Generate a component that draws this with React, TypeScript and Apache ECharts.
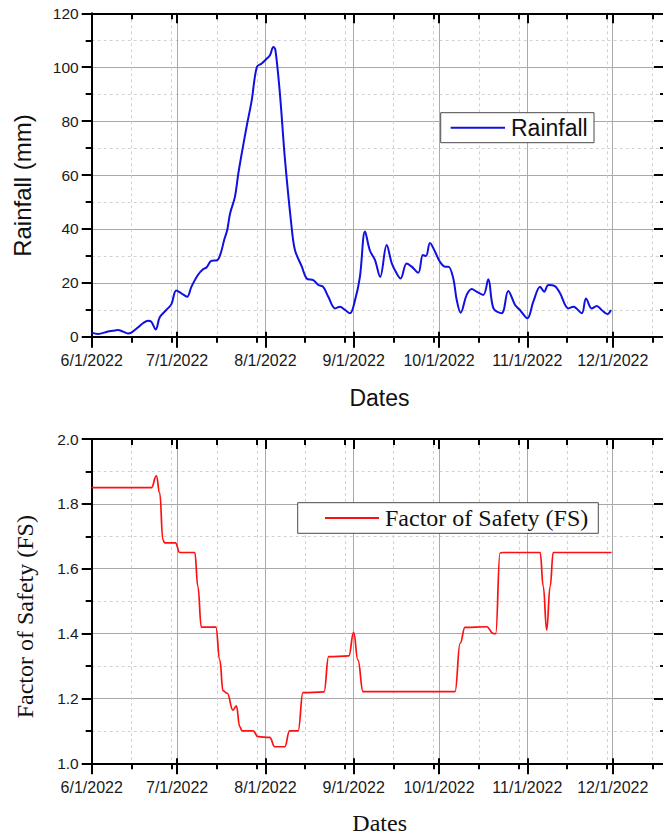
import React, { useEffect, useRef } from "react";
import * as echarts from "echarts";

// Days counted from 6/1/2022
const rainDay = [
  0, 2.2, 5.7, 7.5, 9.2, 11, 12.7, 13.9, 16.3, 18, 19.8, 20.9, 22.5, 23.9, 26.2, 28, 29.7, 31.5,
  33.5, 35, 37.3, 39.1, 40.3, 42, 44.1, 45.3, 46.5, 47.6, 48.6, 50.3, 51.5, 52.7, 54.4, 56.2, 58,
  59.7, 61.5, 62.6, 63.8, 64.5, 66.1, 67.9, 70.2, 71.4, 73.8, 75.5, 77.8, 79.6, 81.3, 83.1, 85.5,
  87.2, 89, 90.7, 92.5, 94.2, 96, 97.7, 99.5, 101.3, 103.6, 105.4, 107.1, 108.5, 110.6, 112.4,
  114.7, 116.3, 117.4, 118.8, 120.6, 122.3, 124.1, 125.3, 127, 128.2, 129.6, 131.7, 133.5, 135.2,
  137.5, 139.3, 141.1, 144, 146.3, 148.7, 150.4, 153, 155.1, 157.5, 158.9, 160.4, 162.7, 164.5,
  167.4, 169.2, 172.1, 173.6, 175.6, 177.4, 179.1, 181.1, 182.4,
];
const rainMm = [
  1.5, 1.0, 1.9, 2.2, 2.5, 1.9, 1.2, 1.5, 3.5, 5.0, 5.9, 5.6, 2.7, 7.2, 9.9, 12.1, 17.1, 16.1,
  14.8, 18.5, 22.9, 25, 25.7, 28.1, 28.4, 30.9, 35.8, 39.6, 45.7, 51.9, 60.6, 68, 77.9, 87.7, 100.1,
  101.4, 103.2, 104.4, 107.5, 106.5, 90.2, 65.5, 40.8, 32.1, 26, 21.6, 21, 19.2, 18.5, 14.8, 10.5,
  11.1, 9.9, 8.7, 13.6, 22.2, 39, 32, 28.4, 22.2, 34, 27.2, 23.5, 21.6, 27.2, 26,
  23.7, 30.3, 29.9, 34.8, 31.5, 27.8, 26, 26, 21.6, 13.6, 8.9, 15.5, 17.7, 16.7,
  15.5, 21.3, 10.5, 8.7, 17, 11.8, 9.9, 6.8, 13, 18.5, 16.7, 19.2, 18.8, 16.1,
  10.5, 11.1, 8.7, 14.2, 10.5, 11.4, 9.9, 8.4, 9.9,
];

const fsDay = [
  0, 21, 22.7, 23.9, 25, 25.6, 29.4, 30.9, 36.2, 37.3, 38.5, 43.6, 45, 46.1, 47.6, 49.6, 50.8, 52,
  52.8, 56.7, 58.4, 62.5, 64.3, 67.8, 69.5, 72.5, 74.2, 81.6, 83.2, 90.3, 92, 93.5, 95.3, 127.6,
  129.4, 131.1, 138.7, 141.1, 141.9, 143.4, 144.4, 157.5, 158.6, 159.8, 161, 162.1, 182.6,
];
const fsValue = [
  1.85, 1.85, 1.886, 1.833, 1.689, 1.68, 1.68, 1.65, 1.65, 1.545, 1.42, 1.42, 1.318, 1.224, 1.216,
  1.164, 1.177, 1.113, 1.1, 1.1, 1.082, 1.08, 1.051, 1.051, 1.1, 1.1, 1.218, 1.22, 1.329, 1.331,
  1.404, 1.318, 1.221, 1.221, 1.37, 1.419, 1.421, 1.4, 1.4, 1.648, 1.65, 1.65, 1.545, 1.411, 1.545,
  1.65, 1.65,
];

// Axis marks: month starts carry labels, mid/late-month marks carry dotted grid
const monthDays = [0, 30, 61, 92, 122, 153, 183];
const minorDays = [14, 28, 44, 58, 75, 89, 106, 120, 136, 150, 167, 181, 197];
const dayMax = 201;

const SANS = "Liberation Sans, Arial, sans-serif";
const SERIF = "Liberation Serif, Times New Roman, serif";
const MAJOR_GRID = "#a9a9a9";
const MINOR_GRID = "#d2d2d2";

function dayLabel(v: number) {
  const d = new Date(2022, 5, 1 + Math.round(v));
  return `${d.getMonth() + 1}/${d.getDate()}/${d.getFullYear()}`;
}

function xAxesFor(gridIndex: number) {
  const base = { type: "value", gridIndex, min: 0, max: dayMax };
  return [
    {
      ...base,
      position: "bottom",
      axisLine: { show: true, onZero: false, lineStyle: { color: "#000", width: 2 } },
      axisTick: { show: true, customValues: monthDays, length: 11, lineStyle: { color: "#000", width: 2 } },
      axisLabel: {
        show: true,
        customValues: monthDays,
        formatter: dayLabel,
        margin: 16,
        fontSize: 16,
        fontFamily: SANS,
        color: "#1a1a1a",
      },
      splitLine: { show: true, lineStyle: { color: MAJOR_GRID, width: 1 } },
    },
    {
      ...base,
      position: "bottom",
      axisLine: { show: false, onZero: false },
      axisTick: { show: true, customValues: minorDays, length: 6, lineStyle: { color: "#000", width: 2 } },
      axisLabel: { show: false },
      splitLine: { show: true, lineStyle: { color: MINOR_GRID, width: 1, type: [3, 3] } },
    },
    {
      ...base,
      position: "bottom",
      axisLine: { show: false, onZero: false },
      axisTick: { show: true, inside: true, customValues: monthDays, length: 5, lineStyle: { color: "#000", width: 2 } },
      axisLabel: { show: false },
      splitLine: { show: false },
    },
    {
      ...base,
      position: "top",
      axisLine: { show: true, onZero: false, lineStyle: { color: "#000", width: 2 } },
      axisTick: { show: true, inside: true, customValues: monthDays, length: 10, lineStyle: { color: "#000", width: 2 } },
      axisLabel: { show: false },
      splitLine: { show: false },
    },
    {
      ...base,
      position: "top",
      axisLine: { show: false, onZero: false },
      axisTick: { show: true, inside: true, customValues: minorDays, length: 6, lineStyle: { color: "#000", width: 2 } },
      axisLabel: { show: false },
      splitLine: { show: false },
    },
  ];
}

function yAxesFor(gridIndex: number, min: number, max: number, interval: number, digits: number) {
  return [
    {
      type: "value",
      gridIndex,
      min,
      max,
      interval,
      position: "left",
      axisLine: { show: true, onZero: false, lineStyle: { color: "#000", width: 2 } },
      axisTick: { show: true, length: 10, lineStyle: { color: "#000", width: 2 } },
      minorTick: { show: true, splitNumber: 2, length: 6, lineStyle: { color: "#000", width: 2 } },
      axisLabel: {
        margin: 13,
        fontSize: 15.5,
        fontFamily: SANS,
        color: "#1a1a1a",
        formatter: (v: number) => v.toFixed(digits),
      },
      splitLine: { show: true, lineStyle: { color: MAJOR_GRID, width: 1 } },
      minorSplitLine: { show: true, lineStyle: { color: MINOR_GRID, width: 1, type: [3, 3] } },
    },
    {
      type: "value",
      gridIndex,
      min,
      max,
      interval,
      position: "right",
      axisLine: { show: true, onZero: false, lineStyle: { color: "#000", width: 2 } },
      axisTick: { show: true, inside: true, length: 10, lineStyle: { color: "#000", width: 2 } },
      minorTick: { show: true, splitNumber: 2, length: 4, lineStyle: { color: "#000", width: 2 } },
      axisLabel: { show: false },
      splitLine: { show: false },
    },
  ];
}

function legendBox(x: number, y: number, w: number, h: number, lineX1: number, lineX2: number, color: string, label: string, font: string) {
  const cy = y + h / 2;
  return [
    {
      type: "rect",
      shape: { x, y, width: w, height: h },
      style: { fill: "#fff", stroke: "#4a4a4a", lineWidth: 1 },
      z: 100,
    },
    {
      type: "line",
      shape: { x1: lineX1, y1: cy, x2: lineX2, y2: cy },
      style: { stroke: color, lineWidth: 2 },
      z: 101,
    },
    {
      type: "text",
      x: lineX2 + 6,
      y: cy,
      style: { text: label, font, fill: "#111", align: "left", verticalAlign: "middle" },
      z: 101,
    },
  ];
}

export default function App() {
  const ref = useRef<HTMLDivElement>(null);

  useEffect(() => {
    if (!ref.current) return;
    const chart = echarts.init(ref.current, null, { renderer: "svg" });
    const rainPoints = rainDay.map((d, i) => [d, rainMm[i]]);
    const fsPoints = fsDay.map((d, i) => [d, fsValue[i]]);

    chart.setOption({
      animation: false,
      backgroundColor: "#fff",
      grid: [
        { left: 91.7, top: 13.3, width: 572.3, height: 323.4 },
        { left: 91.7, top: 439, width: 572.3, height: 324.3 },
      ],
      xAxis: [...xAxesFor(0), ...xAxesFor(1)],
      yAxis: [...yAxesFor(0, 0, 120, 20, 0), ...yAxesFor(1, 1, 2, 0.2, 1)],
      series: [
        {
          name: "Rainfall",
          type: "line",
          xAxisIndex: 0,
          yAxisIndex: 0,
          data: rainPoints,
          showSymbol: false,
          smooth: 0.35,
          lineStyle: { color: "#1010e0", width: 2 },
          z: 10,
        },
        {
          name: "Factor of Safety (FS)",
          type: "line",
          xAxisIndex: 5,
          yAxisIndex: 2,
          data: fsPoints,
          showSymbol: false,
          smooth: 0.45,
          smoothMonotone: "x",
          lineStyle: { color: "#ff1010", width: 1.7 },
          z: 10,
        },
      ],
      graphic: [
        {
          type: "text",
          x: 22,
          y: 185.5,
          rotation: Math.PI / 2,
          style: { text: "Rainfall (mm)", font: `24px ${SANS}`, fill: "#111", align: "center", verticalAlign: "middle" },
        },
        {
          type: "text",
          x: 379.5,
          y: 398,
          style: { text: "Dates", font: `23px ${SANS}`, fill: "#111", align: "center", verticalAlign: "middle" },
        },
        {
          type: "text",
          x: 25,
          y: 616.7,
          rotation: Math.PI / 2,
          style: { text: "Factor of Safety (FS)", font: `24px ${SERIF}`, fill: "#111", align: "center", verticalAlign: "middle" },
        },
        {
          type: "text",
          x: 379.7,
          y: 823,
          style: { text: "Dates", font: `24px ${SERIF}`, fill: "#111", align: "center", verticalAlign: "middle" },
        },
        ...legendBox(440.7, 112.7, 153.3, 30, 450.7, 505, "#1010e0", "Rainfall", `23px ${SANS}`),
        ...legendBox(297.7, 502.7, 300.6, 30.6, 325, 379, "#ff1010", "Factor of Safety (FS)", `24px ${SERIF}`),
      ],
    });

    return () => chart.dispose();
  }, []);

  return (
    <div style={{ position: "fixed", left: 0, top: 0, width: 663, height: 837, overflow: "hidden", background: "#fff" }}>
      <div ref={ref} style={{ width: 668, height: 837 }} />
    </div>
  );
}
